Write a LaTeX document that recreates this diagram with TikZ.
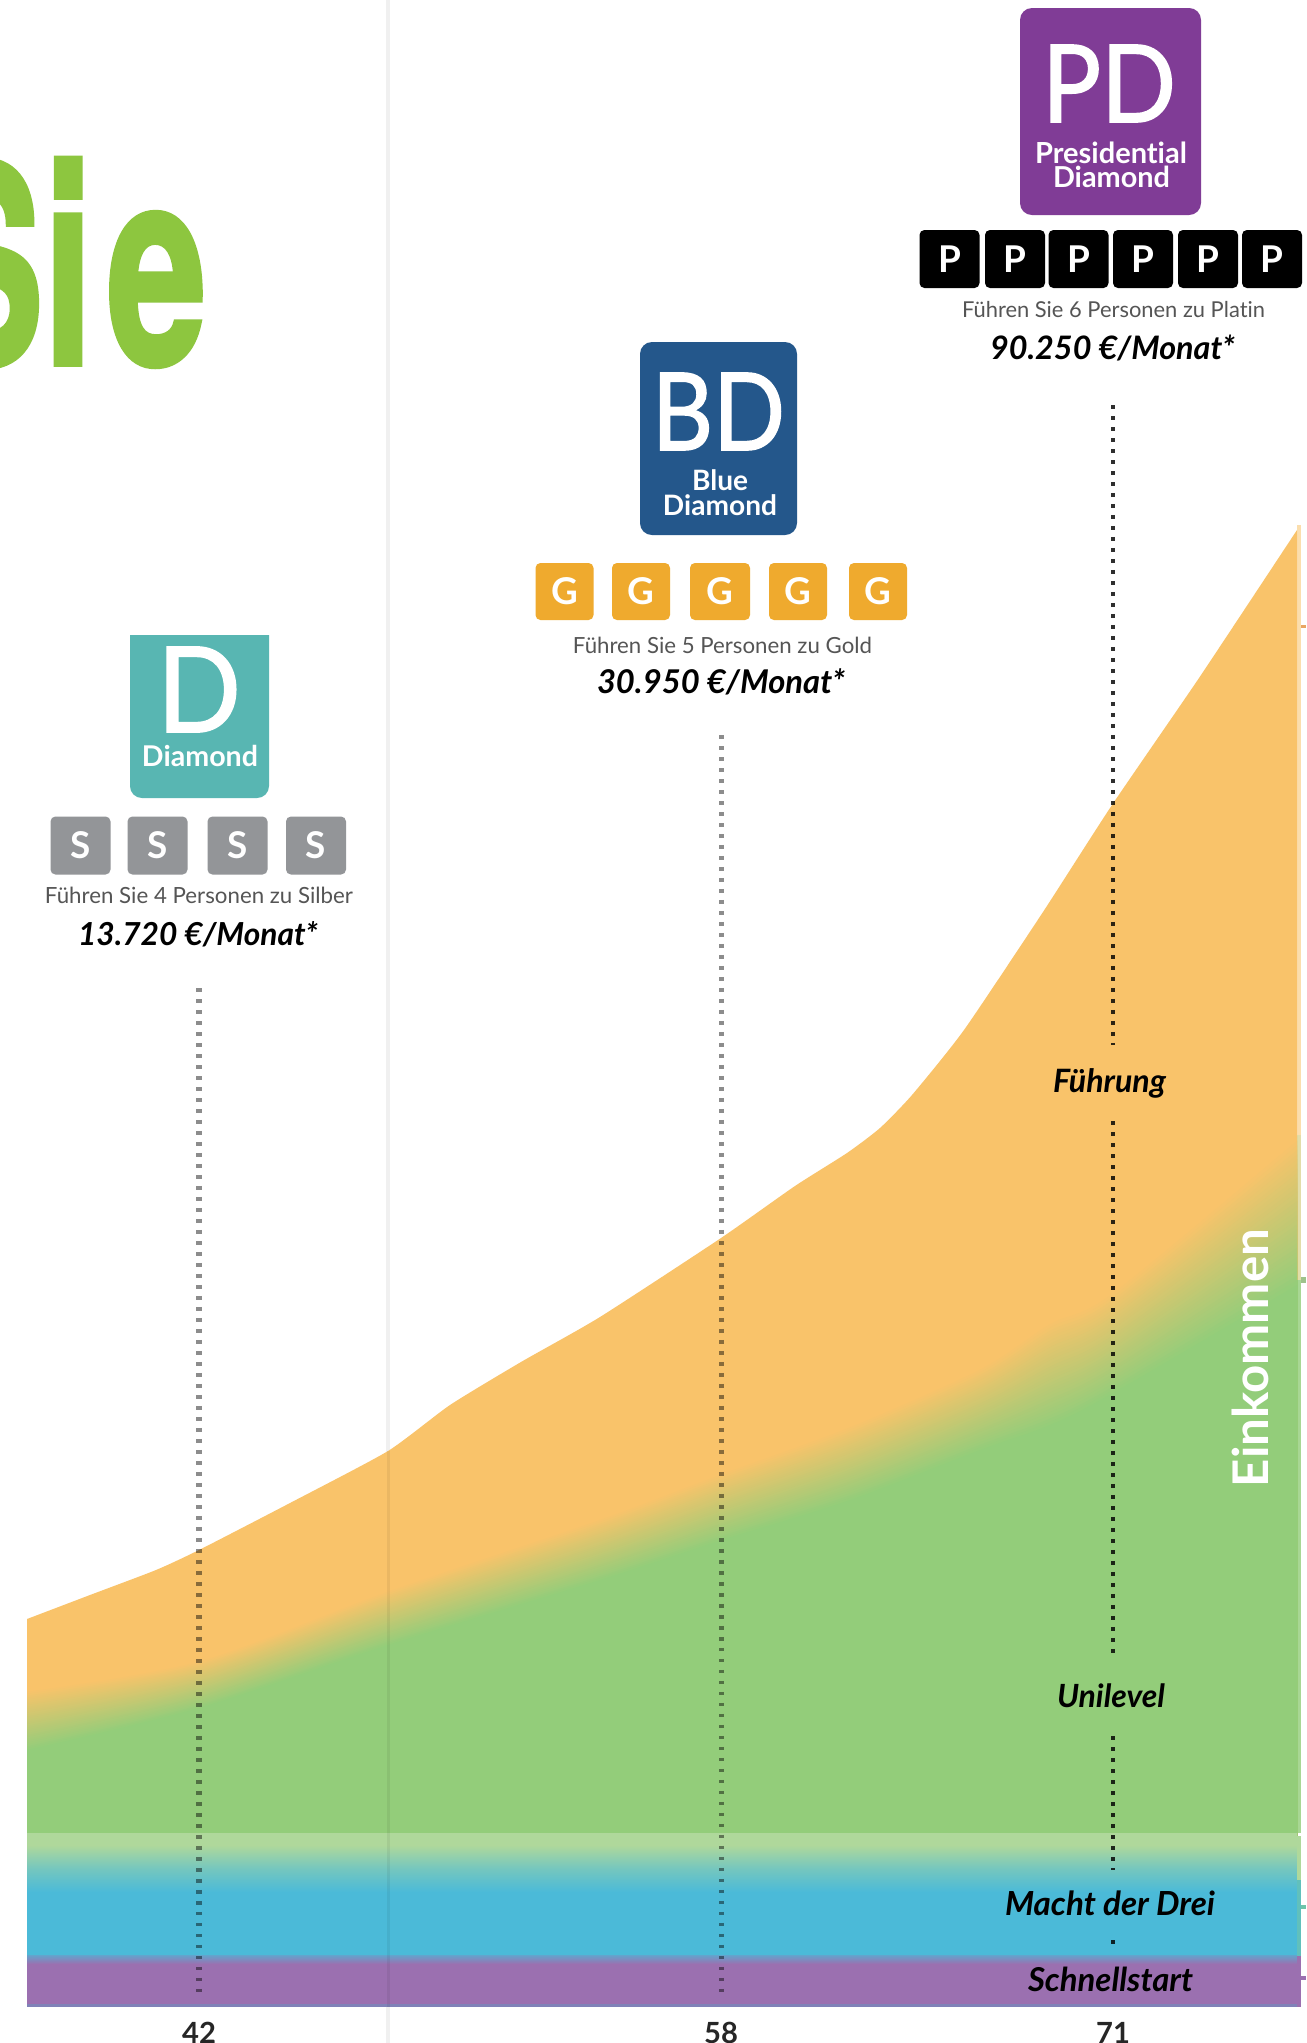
\documentclass[tikz,border=0pt]{standalone}
\usepackage{fontspec}
\setmainfont{Lato}[Ligatures=NoCommon]
\newfontfamily\heros{TeX Gyre Heros}[FakeBold=2]
\newfontfamily\latoheavy{Lato}[FakeBold=1.5]
\newdimen\pxu \pxu=0.02cm
\newcommand\fw[2]{\resizebox{#1\pxu}{!}{#2}}
\newcommand\fwh[3]{\resizebox{#1\pxu}{#2\pxu}{#3}}
\newcommand\bnd[2]{#1+\t*(#2-#1)}
\definecolor{cOrange}{RGB}{249,195,106}
\definecolor{cGreen}{RGB}{147,205,122}
\definecolor{cLight}{RGB}{175,216,155}
\definecolor{cBlue}{RGB}{75,186,216}
\definecolor{cPurple}{RGB}{155,112,176}
\definecolor{cEdge}{RGB}{128,130,184}
\definecolor{cPD}{RGB}{128,60,150}
\definecolor{cBD}{RGB}{36,87,139}
\definecolor{cD}{RGB}{88,182,178}
\definecolor{cSilver}{RGB}{147,149,152}
\definecolor{cGold}{RGB}{239,170,46}
\definecolor{cTitle}{RGB}{141,198,63}
\definecolor{cRule}{RGB}{240,240,240}
\definecolor{cCap}{RGB}{85,85,85}
\tikzset{
  tile/.style={rectangle,rounded corners=2.8pt,inner sep=0pt,minimum width=60*\pxu,minimum height=58*\pxu,text=white,font=\fontsize{21}{21}\selectfont\bfseries},
  badge/.style={rectangle,rounded corners=6.8pt,inner sep=0pt},
  bigtxt/.style={anchor=base,inner sep=0pt,text=white,font=\latoheavy},
  smalltxt/.style={anchor=base,inner sep=0pt,text=white,font=\bfseries},
  capt/.style={anchor=base,inner sep=0pt,text=cCap},
  money/.style={anchor=base,inner sep=0pt,text=black,font=\bfseries\itshape},
  lab/.style={anchor=base,inner sep=0pt,text=black,font=\itshape\bfseries},
  num/.style={anchor=base,inner sep=0pt,text=black!85,font=\fontsize{16.6}{17}\selectfont\bfseries},
  dotA/.style={line width=3.4pt,black,opacity=.45,dash pattern=on 2.05pt off 4.21pt},
  dotB/.style={line width=2.7pt,black,opacity=.82,dash pattern=on 2.05pt off 4.21pt},
}
\begin{document}
\begin{tikzpicture}[x=0.02cm,y=-0.02cm]
\useasboundingbox (0,0) rectangle (1306,2043);
\fill[white] (0,0) rectangle (1306,2043);
% column rule
\fill[cRule] (386,0) rectangle (390,2043);
% title
\node[anchor=base east,inner sep=0pt,text=cTitle] (title) at (207,364)
  {\scalebox{.65}[1]{\fontsize{157}{157}\selectfont\heros\bfseries S\kern 0pt i\kern 12pt e}};
% orange area
\fill[cOrange] plot[smooth,tension=.35] coordinates {(27,1619) (90,1595) (156,1570) (199,1550) (290,1503) (388,1451) (450,1405) (521,1362) (600,1317) (721,1238) (795,1186) (847,1153) (880,1128) (912,1095) (964,1030) (1043,912) (1112,805) (1199,678) (1297,530)}
  -- (1297,1840) -- (27,1840) -- cycle;
% blend orange to green
\foreach \i in {0,...,32}{
  \pgfmathsetmacro\t{\i/32}
  \pgfmathsetmacro\p{100*(1-\t)}
  \fill[cOrange!\p!cGreen] plot[smooth,tension=.5] coordinates {
    (27,{\bnd{1690}{1750}}) (199,{\bnd{1660}{1708}}) (388,{\bnd{1590}{1645}})
    (600,{\bnd{1518}{1580}}) (722,{\bnd{1472}{1540}}) (850,{\bnd{1425}{1500}})
    (980,{\bnd{1367}{1450}}) (1050,{\bnd{1321}{1425}}) (1113,{\bnd{1290}{1393}})
    (1297,{\bnd{1136}{1285}})}
    -- (1297,1840) -- (27,1840) -- cycle;
}
% lower bands
\fill[cLight] (27,1833) rectangle (1297,1845);
\shade[top color=cLight,bottom color=cBlue,middle color=cLight!42!cBlue] (27,1845) rectangle (1297,1892);
\fill[cBlue] (27,1892) rectangle (1297,1956);
\shade[top color=cBlue!70!cPurple,bottom color=cPurple] (27,1955) rectangle (1297,1964);
\fill[cPurple] (27,1964) rectangle (1297,2004);
\fill[cEdge] (27,2004) rectangle (1297,2007);
% right strip and ticks
\fill[white,opacity=.45] (1297,525) rectangle (1301,1135);
\fill[cOrange,opacity=.55] (1297,525) rectangle (1301,1135);
\fill[cOrange!60!cGreen,opacity=.6] (1297,1135) rectangle (1301,1280);
\fill[cGreen,opacity=.8] (1297,1280) rectangle (1301,1833);
\fill[cLight] (1297,1836) rectangle (1301,1880);
\fill[cBlue!70!cGreen] (1297,1880) rectangle (1301,1956);
\fill[cPurple] (1297,1956) rectangle (1301,2007);
\fill[orange!50!brown!70!white] (1301,625) rectangle (1306,628);
\fill[cLight!90!black] (1301,1277) rectangle (1306,1283);
\fill[cBlue!50!cGreen] (1301,1905) rectangle (1306,1909);
\fill[cPurple] (1301,1976) rectangle (1306,1980);
% rule over the chart
\fill[black,opacity=.06] (387,1451) rectangle (390,2007);
% dotted guides
\coordinate (a1) at (199,988); \coordinate (a2) at (199,1995);
\coordinate (b1) at (721.5,735); \coordinate (b2) at (721.5,1995);
\coordinate (c1) at (1113,405); \coordinate (c2) at (1113,1045);
\coordinate (c3) at (1113,1121); \coordinate (c4) at (1113,1658);
\coordinate (c5) at (1113,1736); \coordinate (c6) at (1113,1870);
\coordinate (c7) at (1113,1940); \coordinate (c8) at (1113,1944);
\draw[dotA] (a1) -- (a2);
\draw[dotA] (b1) -- (b2);
\draw[dotB] (c1) -- (c2);
\draw[dotB] (c3) -- (c4);
\draw[dotB] (c5) -- (c6);
\draw[dotB] (c7) -- (c8);
% Diamond
\fill[cD] (130,635) -- (269,635) [rounded corners=6.8pt] -- (269,798) -- (130,798) [sharp corners] -- cycle;
\node[bigtxt] (dT) at (199,732) {\fwh{84}{85}{D}};
\node[smalltxt] (dN) at (200,766) {\fw{116}{Diamond}};
\node[tile,fill=cSilver] (s1) at (80.5,845.5) {S};
\node[tile,fill=cSilver] (s2) at (157.5,845.5) {S};
\node[tile,fill=cSilver] (s3) at (237.5,845.5) {S};
\node[tile,fill=cSilver] (s4) at (316,845.5) {S};
\node[capt] (dC) at (199,903) {\fw{308}{Führen Sie 4 Personen zu Silber}};
\node[money] (dM) at (198,945) {\fw{240}{13.720 €/Monat*}};
% Blue Diamond
\node[badge,fill=cBD,minimum width=157*\pxu,minimum height=193*\pxu] (bdB) at (718.5,438.5) {};
\node[bigtxt] (bT) at (718.5,450) {\fwh{133}{77}{BD}};
\node[smalltxt] (bN1) at (720,490) {\fw{56}{Blue}};
\node[smalltxt] (bN2) at (720,515) {\fw{114}{Diamond}};
\node[tile,fill=cGold,minimum width=58*\pxu,minimum height=57*\pxu] (g1) at (564.5,591.5) {G};
\node[tile,fill=cGold,minimum width=58*\pxu,minimum height=57*\pxu] (g2) at (641,591.5) {G};
\node[tile,fill=cGold,minimum width=60*\pxu,minimum height=57*\pxu] (g3) at (720,591.5) {G};
\node[tile,fill=cGold,minimum width=58*\pxu,minimum height=57*\pxu] (g4) at (798,591.5) {G};
\node[tile,fill=cGold,minimum width=58*\pxu,minimum height=57*\pxu] (g5) at (878,591.5) {G};
\node[capt] (bC) at (722.5,653) {\fw{299}{Führen Sie 5 Personen zu Gold}};
\node[money] (bM) at (721,693) {\fw{248}{30.950 €/Monat*}};
% Presidential Diamond
\node[badge,fill=cPD,minimum width=181*\pxu,minimum height=207*\pxu] (pdB) at (1110.5,111.5) {};
\node[bigtxt] (pT) at (1109,122) {\fwh{134}{77}{PD}};
\node[smalltxt] (pN1) at (1111,163) {\fw{152}{Presidential}};
\node[smalltxt] (pN2) at (1111.5,187) {\fw{117}{Diamond}};
\node[tile,fill=black] (p1) at (949.5,259) {P};
\node[tile,fill=black] (p2) at (1015,259) {P};
\node[tile,fill=black] (p3) at (1078.5,259) {P};
\node[tile,fill=black] (p4) at (1143,259) {P};
\node[tile,fill=black] (p5) at (1208,259) {P};
\node[tile,fill=black] (p6) at (1272,259) {P};
\node[capt] (pC) at (1113.5,317) {\fw{303}{Führen Sie 6 Personen zu Platin}};
\node[money] (pM) at (1112.5,359) {\fw{245}{90.250 €/Monat*}};
% income labels
\node[lab] (l1) at (1109.5,1092) {\fw{113}{Führung}};
\node[lab] (l2) at (1111,1707) {\fw{108}{Unilevel}};
\node[lab] (l3) at (1110,1915) {\fw{210}{Macht der Drei}};
\node[lab] (l4) at (1110.5,1991) {\fw{165}{Schnellstart}};
\node[anchor=base,inner sep=0pt,rotate=90,text=white,font=\bfseries] (ek) at (1268,1358) {\fw{258}{Einkommen}};
% axis numbers
\node[num] (n1) at (199,2043) {42};
\node[num] (n2) at (721,2043) {58};
\node[num] (n3) at (1113,2043) {71};
\end{tikzpicture}
\end{document}
